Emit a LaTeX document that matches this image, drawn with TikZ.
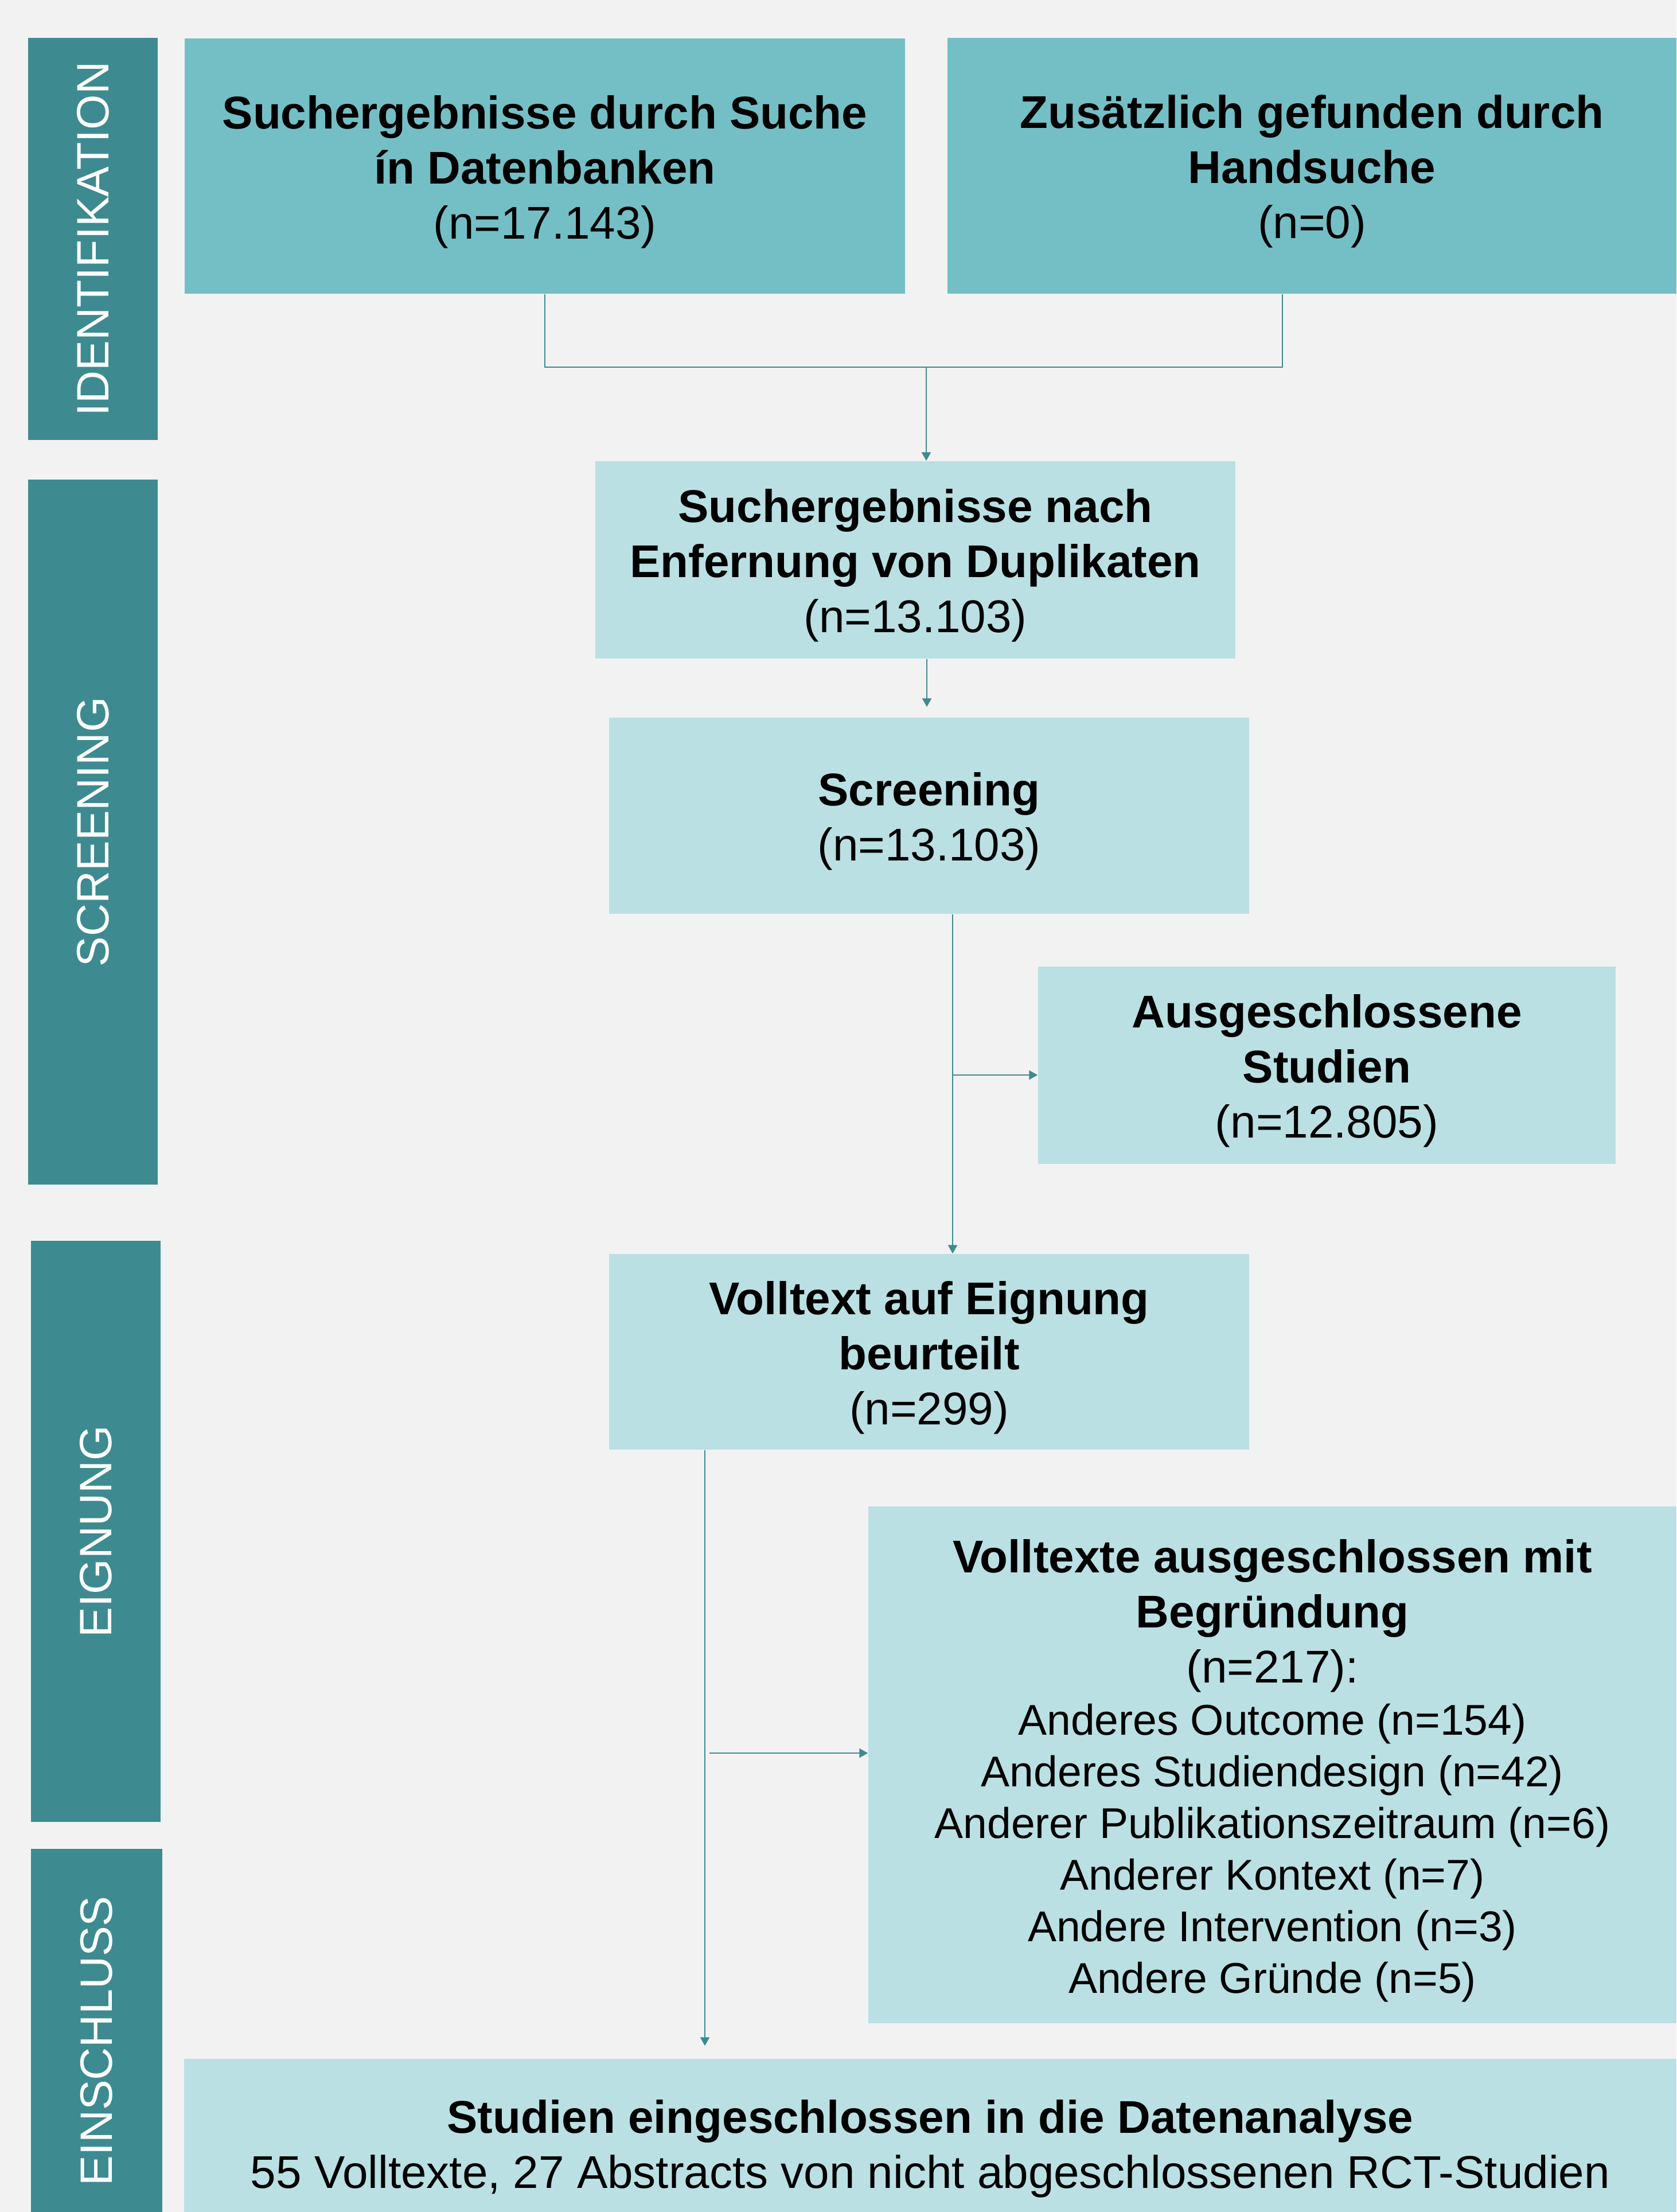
\documentclass[tikz,border=0pt]{standalone}
\usepackage{fontspec}
\setmainfont{Liberation Sans}
\usepackage{tikz}
\usetikzlibrary{arrows.meta}
\definecolor{bgcol}{HTML}{F2F2F2}
\definecolor{phasecol}{HTML}{3D8B90}
\definecolor{topcol}{HTML}{74BFC5}
\definecolor{boxcol}{HTML}{BAE0E3}
\definecolor{linecol}{HTML}{3D8B90}
\newcommand{\flowfont}{\fontsize{22.76pt}{27.31pt}\selectfont}
\newcommand{\reasonfont}{\fontsize{21.34pt}{27.31pt}\selectfont}
\newcommand{\phasefont}{\fontsize{22.5pt}{27pt}\selectfont}
\newcommand{\lift}{\rule{0pt}{7.8mm}}
\tikzstyle{phase}=[rectangle,fill=phasecol,text=white,rotate=90,inner sep=0pt,font=\phasefont]
\tikzstyle{topbox}=[rectangle,fill=topcol,align=center,inner sep=0pt,font=\flowfont]
\tikzstyle{stepbox}=[rectangle,fill=boxcol,align=center,inner sep=0pt,font=\flowfont]
\tikzstyle{connector}=[draw=linecol,line width=0.27mm]
\tikzstyle{flow}=[connector,-{Triangle[length=1.5mm,width=1.6mm]}]

\begin{document}
\begin{tikzpicture}[x=1mm,y=-1mm]
		\path[use as bounding box,clip] (0,0) rectangle (292.3,385.6);
		\fill[bgcol] (0,0) rectangle (292.3,385.6);
		% phases on the left
		\node at (16.2,41.65) [phase,minimum width=70.1mm,minimum height=22.6mm] (ident) {IDENTIFIKATION};
		\node at (16.2,145.05) [phase,minimum width=122.9mm,minimum height=22.6mm] (screenphase) {SCREENING};
		\node at (16.7,266.95) [phase,minimum width=101.3mm,minimum height=22.6mm] (eignphase) {EIGNUNG};
		\node at (16.85,355.8) [phase,minimum width=67mm,minimum height=22.9mm] (inclphase) {EINSCHLUSS};
		% boxes
		\node at (95.0,28.95) [topbox,minimum width=125.6mm,minimum height=44.5mm] (search) {\lift\textbf{Suchergebnisse durch Suche}\\\textbf{ín Datenbanken}\\(n=17.143)};
		\node at (228.75,28.9) [topbox,minimum width=127.1mm,minimum height=44.6mm] (hand) {\lift\textbf{Zusätzlich gefunden durch}\\\textbf{Handsuche}\\(n=0)};
		\node at (159.6,97.6) [stepbox,minimum width=111.6mm,minimum height=34.4mm] (dedup) {\lift\textbf{Suchergebnisse nach}\\\textbf{Enfernung von Duplikaten}\\(n=13.103)};
		\node at (162.0,142.2) [stepbox,minimum width=111.6mm,minimum height=34.2mm] (screen) {\lift\textbf{Screening}\\(n=13.103)};
		\node at (231.35,185.7) [stepbox,minimum width=100.7mm,minimum height=34.4mm] (excl) {\lift\textbf{Ausgeschlossene}\\\textbf{Studien}\\(n=12.805)};
		\node at (162.0,235.65) [stepbox,minimum width=111.6mm,minimum height=34.1mm] (fulltext) {\lift\textbf{Volltext auf Eignung}\\\textbf{beurteilt}\\(n=299)};
		\node at (221.85,307.65) [stepbox,minimum width=140.9mm,minimum height=90.1mm] (exclft) {\lift\textbf{Volltexte ausgeschlossen mit}\\\textbf{Begründung}\\(n=217):\\[-0.5mm]
			{\reasonfont Anderes Outcome (n=154)}\\[-0.6mm]
			{\reasonfont Anderes Studiendesign (n=42)}\\[-0.6mm]
			{\reasonfont Anderer Publikationszeitraum (n=6)}\\[-0.6mm]
			{\reasonfont Anderer Kontext (n=7)}\\[-0.6mm]
			{\reasonfont Andere Intervention (n=3)}\\[-0.6mm]
			{\reasonfont Andere Gründe (n=5)}};
		\node at (162.2,373.55) [stepbox,minimum width=260.2mm,minimum height=29.3mm] (incl) {\lift\textbf{Studien eingeschlossen in die Datenanalyse}\\55 Volltexte, 27 Abstracts von nicht abgeschlossenen RCT-Studien};
		% connectors
		\coordinate (merge) at (161.5,64.0);
		\draw [connector] (search.south) |- (merge) -| ([xshift=-5.15mm]hand.south);
		\draw [flow] (merge) -- (merge |- dedup.north);
		\draw [flow,shorten >=1.8mm] ([xshift=2mm]dedup.south) -- ([xshift=2mm]dedup.south |- screen.north);
		\draw [flow] ([xshift=4.1mm]screen.south) -- ([xshift=4.1mm]fulltext.north);
		\coordinate (split1) at (166.1,187.4);
		\draw [flow] (split1) -- (split1 -| excl.west);
		\draw [flow,shorten >=2.2mm] ([xshift=-39.1mm]fulltext.south) -- ([xshift=-39.1mm]fulltext.south |- incl.north);
		\coordinate (split2) at (123.7,305.6);
		\draw [flow] (split2) -- (split2 -| exclft.west);
\end{tikzpicture}
\end{document}
